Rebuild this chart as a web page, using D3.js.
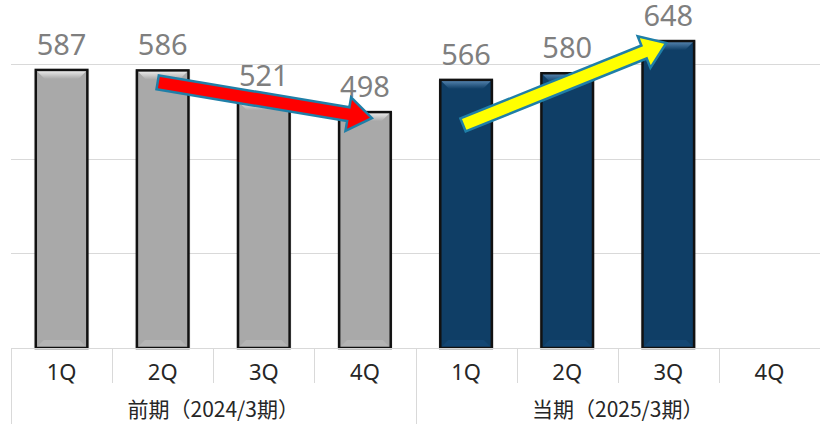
<html>
<head>
<meta charset="utf-8">
<script src="https://d3js.org/d3.v7.min.js"></script>
<style>
  body { margin: 0; background: #fff; }
  svg { display: block; }
</style>
</head>
<body>
<svg width="820" height="424"></svg>
<script>
// data
var quarters = ["1Q", "2Q", "3Q", "4Q"];
var periods = ["前期（2024/3期）", "当期（2025/3期）"];
var prevValues = [587, 586, 521, 498];
var currValues = [566, 580, 648, null];
var gridTicks = [200, 400, 600];

var rows = [];
quarters.forEach(function(q, i) { rows.push({ key: "p" + i, q: q, v: prevValues[i], group: 0 }); });
quarters.forEach(function(q, i) { rows.push({ key: "c" + i, q: q, v: currValues[i], group: 1 }); });

var svg = d3.select("svg");
var baseY = 348;

var x = d3.scaleBand()
    .domain(rows.map(function(d) { return d.key; }))
    .range([11, 820])
    .padding(0);

var y = d3.scaleLinear()
    .domain([0, 700])
    .range([baseY, 16.4]);

var bw = x.bandwidth();
var barW = bw * 0.51;
function cx(key) { return x(key) + bw / 2; }

// gradients for the bevel
var defs = svg.append("defs");
function grad(id, top, bottom) {
    var g = defs.append("linearGradient").attr("id", id)
        .attr("x1", 0).attr("y1", 0).attr("x2", 0).attr("y2", 1);
    g.append("stop").attr("offset", "0%").attr("stop-color", top);
    g.append("stop").attr("offset", "100%").attr("stop-color", bottom);
}
grad("bevGray", "#f2f2f2", "#a9a9a9");
grad("bevNavy", "#5b8ab5", "#0f3e66");

// gridlines
svg.append("g").selectAll("line")
    .data(gridTicks)
    .enter().append("line")
    .attr("x1", 11).attr("x2", 820)
    .attr("y1", function(d) { return Math.round(y(d)) + 0.5; })
    .attr("y2", function(d) { return Math.round(y(d)) + 0.5; })
    .attr("stroke", "#d9d9d9").attr("stroke-width", 1);

// bars
var bars = rows.filter(function(d) { return d.v != null; });
var bg = svg.append("g");

bg.selectAll("rect.shadow")
    .data(bars).enter().append("rect")
    .attr("x", function(d) { return cx(d.key) - barW / 2 - 2; })
    .attr("y", function(d) { return y(d.v); })
    .attr("width", barW + 4)
    .attr("height", function(d) { return baseY - y(d.v); })
    .attr("fill", "#000").attr("opacity", 0.08);

bg.selectAll("rect.bar")
    .data(bars).enter().append("rect")
    .attr("x", function(d) { return cx(d.key) - barW / 2; })
    .attr("y", function(d) { return y(d.v); })
    .attr("width", barW)
    .attr("height", function(d) { return baseY - y(d.v); })
    .attr("fill", function(d) { return d.group == 0 ? "#a9a9a9" : "#0f3e66"; });

// top bevel
bg.selectAll("path.bevel")
    .data(bars).enter().append("path")
    .attr("d", function(d) {
        var x0 = cx(d.key) - barW / 2, x1 = cx(d.key) + barW / 2, y0 = y(d.v), b = 9;
        return "M" + x0 + "," + y0 + "L" + x1 + "," + y0 + "L" + (x1 - b) + "," + (y0 + b) +
               "L" + (x0 + b) + "," + (y0 + b) + "Z";
    })
    .attr("fill", function(d) { return d.group == 0 ? "url(#bevGray)" : "url(#bevNavy)"; });

// bottom bevel (subtle)
bg.selectAll("path.bevelb")
    .data(bars).enter().append("path")
    .attr("d", function(d) {
        var x0 = cx(d.key) - barW / 2, x1 = cx(d.key) + barW / 2, y0 = baseY, b = 8;
        return "M" + x0 + "," + y0 + "L" + x1 + "," + y0 + "L" + (x1 - b) + "," + (y0 - b) +
               "L" + (x0 + b) + "," + (y0 - b) + "Z";
    })
    .attr("fill", function(d) { return d.group == 0 ? "#b4b4b4" : "#134673"; });

bg.selectAll("rect.outline")
    .data(bars).enter().append("rect")
    .attr("x", function(d) { return cx(d.key) - barW / 2; })
    .attr("y", function(d) { return y(d.v); })
    .attr("width", barW)
    .attr("height", function(d) { return baseY - y(d.v); })
    .attr("fill", "none")
    .attr("stroke", "#111").attr("stroke-width", 2.5);

// value labels
svg.append("g").selectAll("text")
    .data(bars).enter().append("text")
    .attr("x", function(d) { return cx(d.key); })
    .attr("y", function(d) { return y(d.v) - 15; })
    .attr("text-anchor", "middle")
    .attr("font-family", "'Noto Sans', sans-serif")
    .attr("font-size", 29)
    .attr("fill", "#7f7f7f")
    .text(function(d) { return d.v; });

// category axis
var ax = svg.append("g");
ax.append("line")
    .attr("x1", 11).attr("x2", 820).attr("y1", baseY + 0.5).attr("y2", baseY + 0.5)
    .attr("stroke", "#d9d9d9");

ax.selectAll("line.sep")
    .data(rows).enter().append("line")
    .attr("x1", function(d) { return Math.round(x(d.key)) + 0.5; })
    .attr("x2", function(d) { return Math.round(x(d.key)) + 0.5; })
    .attr("y1", baseY)
    .attr("y2", function(d, i) { return i % 4 == 0 ? 424 : 383; })
    .attr("stroke", "#d9d9d9");

ax.selectAll("text.q")
    .data(rows).enter().append("text")
    .attr("x", function(d) { return cx(d.key); })
    .attr("y", 380)
    .attr("text-anchor", "middle")
    .attr("font-family", "'Noto Sans', sans-serif")
    .attr("font-size", 22)
    .attr("fill", "#262626")
    .text(function(d) { return d.q; });

ax.selectAll("text.p")
    .data(periods).enter().append("text")
    .attr("x", function(d, i) { return (x(rows[i * 4].key) + x(rows[i * 4 + 3].key) + bw) / 2; })
    .attr("y", 417)
    .attr("text-anchor", "middle")
    .attr("font-family", "'Noto Sans CJK JP', sans-serif")
    .attr("font-size", 21)
    .attr("fill", "#262626")
    .text(function(d) { return d; });

// trend arrows
function arrowPath(x0, y0, x1, y1) {
    var dx = x1 - x0, dy = y1 - y0, len = Math.sqrt(dx * dx + dy * dy);
    var ux = dx / len, uy = dy / len, nx = -uy, ny = ux;
    var sw = 7, hw = 17, hl = 24;
    var bx = x1 - ux * hl, by = y1 - uy * hl;
    var pts = [
        [x0 + nx * sw, y0 + ny * sw],
        [bx + nx * sw, by + ny * sw],
        [bx + nx * hw, by + ny * hw],
        [x1, y1],
        [bx - nx * hw, by - ny * hw],
        [bx - nx * sw, by - ny * sw],
        [x0 - nx * sw, y0 - ny * sw]
    ];
    return "M" + pts.map(function(p) { return p[0].toFixed(1) + "," + p[1].toFixed(1); }).join("L") + "Z";
}

svg.append("path")
    .attr("d", arrowPath(cx("p1") - 5, y(prevValues[1]) + 12, cx("p3") + 7, y(prevValues[3]) + 6))
    .attr("fill", "#ff0000")
    .attr("stroke", "#1f7fa8").attr("stroke-width", 2.5).attr("stroke-linejoin", "miter");

svg.append("path")
    .attr("d", arrowPath(cx("c0") - 3, y(currValues[0]) + 45, cx("c2") - 2, y(currValues[2]) + 2))
    .attr("fill", "#ffff00")
    .attr("stroke", "#1f7fa8").attr("stroke-width", 2.5).attr("stroke-linejoin", "miter");
</script>
</body>
</html>
